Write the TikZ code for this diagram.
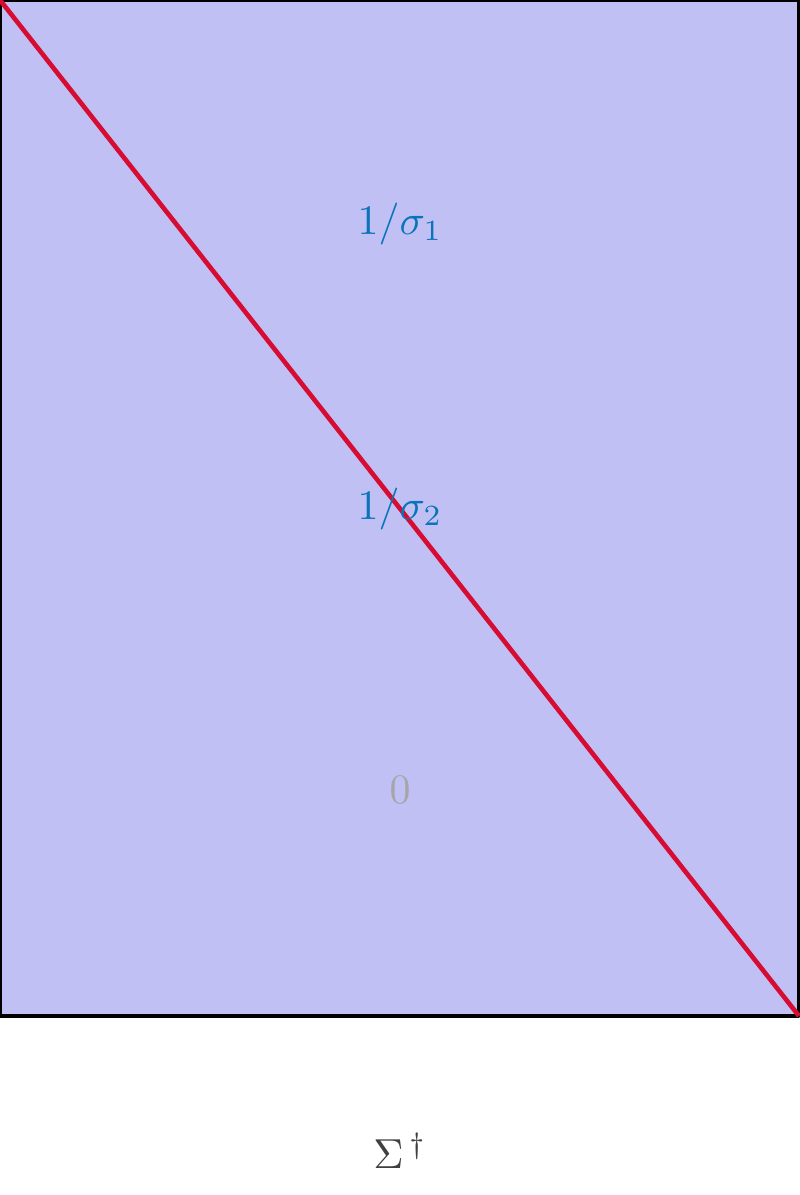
\documentclass[tikz,border=0pt]{standalone}
\definecolor{pinvfill}{RGB}{192,192,245}
\definecolor{diagred}{RGB}{215,12,50}
\definecolor{entryblue}{RGB}{10,115,185}
\definecolor{zerogray}{RGB}{165,165,170}
\definecolor{titlegray}{RGB}{64,64,64}
\begin{document}
\begin{tikzpicture}[x=0.2385pt,y=-0.2385pt,line join=bevel,]
%%
\useasboundingbox (0,0) rectangle (799,1195);
\coordinate (tl) at (0,0);
\coordinate (br) at (799,1016);
\draw [black,line width=1.05pt,fill=pinvfill] (tl) rectangle (br);
\draw [diagred,line width=1.1pt] (tl) -- (br);
%
\node (sigma1) at (400,224) [draw=none,text=entryblue] {$1/\sigma_{1}$};
  \node (sigma2) at (400,509) [draw=none,text=entryblue] {$1/\sigma_{2}$};
  \node (zero) at (400,790) [draw=none,text=zerogray] {$0$};
  \node (pinv) at (400,1151) [draw=none,text=titlegray] {$\Sigma^{\,\dagger}$};
%
\end{tikzpicture}
\end{document}
